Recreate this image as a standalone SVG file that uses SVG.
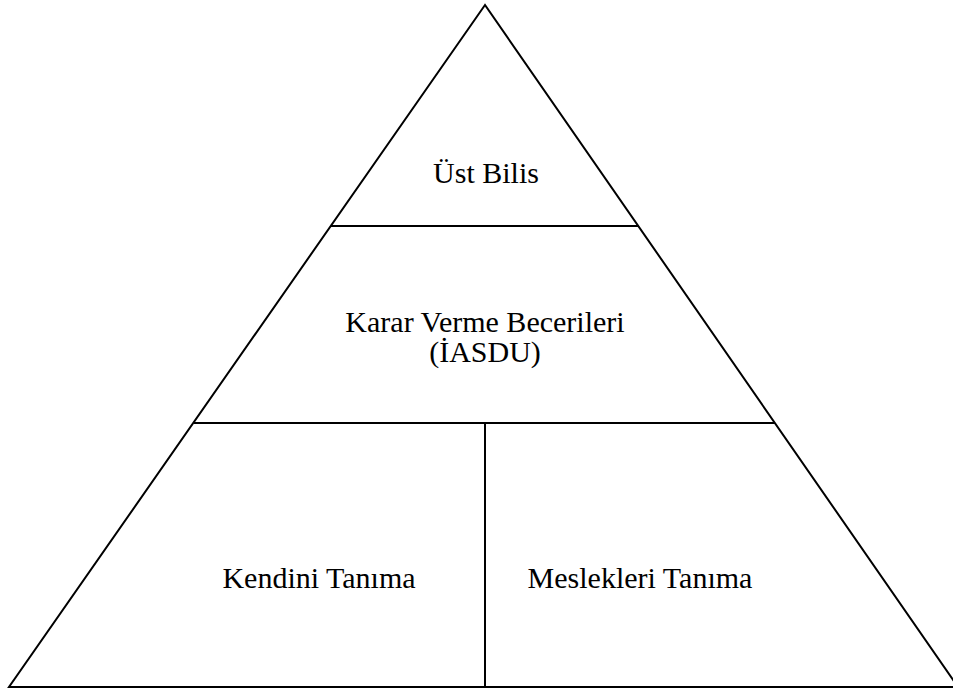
<svg xmlns="http://www.w3.org/2000/svg" width="953" height="693" viewBox="0 0 953 693">
<style>
.ln{stroke:#000;stroke-width:2;fill:none}
.t{font-family:"Liberation Serif","Times New Roman",serif;font-size:30px;fill:#000;text-anchor:middle}
</style>
<rect width="953" height="693" fill="#fff"/>
<g id="connectors">
<polygon class="ln" points="485,5 9,687 958,687"/>
<line class="ln" x1="331" y1="226" x2="638" y2="226"/>
<line class="ln" x1="194" y1="423" x2="775" y2="423"/>
<line class="ln" x1="485" y1="423" x2="485" y2="687"/>
</g>
<g id="ust-bilis"><text class="t" x="486" y="183">Üst Bilis</text></g>
<g id="karar"><text class="t" x="485" y="332">Karar Verme Becerileri</text><text class="t" x="485" y="362">(İASDU)</text></g>
<g id="kendini"><text class="t" x="319" y="588">Kendini Tanıma</text></g>
<g id="meslekleri"><text class="t" x="640" y="588">Meslekleri Tanıma</text></g>
</svg>
